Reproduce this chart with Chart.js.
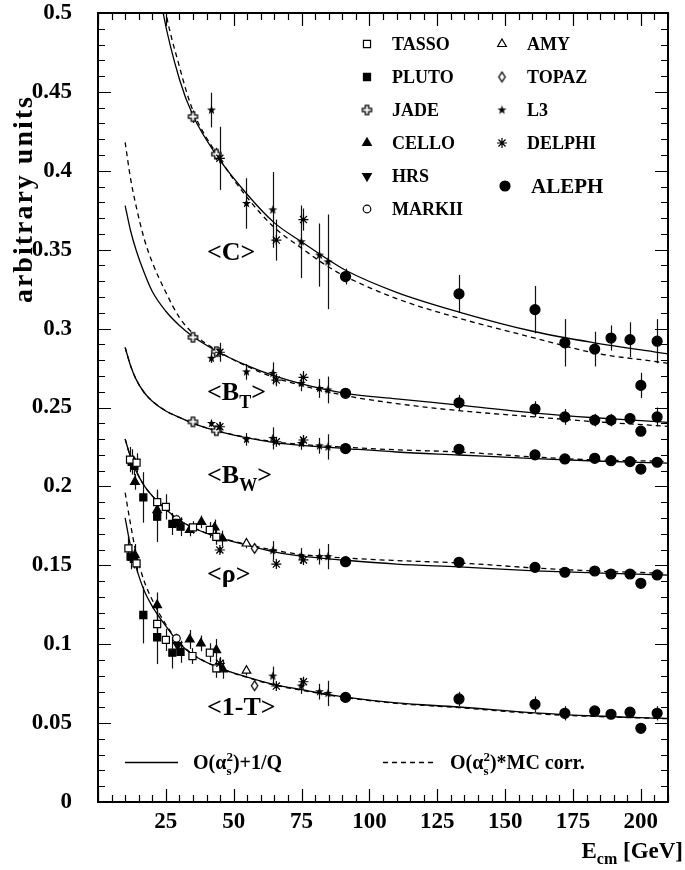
<!DOCTYPE html>
<html>
<head>
<meta charset="utf-8">
<title>Event shape means vs E_cm</title>
<script src="https://cdn.jsdelivr.net/npm/chart.js@4.4.1/dist/chart.umd.min.js"></script>
<style>
  html, body { margin: 0; padding: 0; background: #fff; }
  #wrap { width: 685px; height: 870px; position: relative; }
</style>
</head>
<body>
<div id="wrap"><canvas id="shapeChart" width="685" height="870"></canvas></div>
<script>
// ---- theory curves ----
const curveE = [10, 12, 14, 17, 20, 25, 30, 35, 44, 55, 65, 75, 91.2, 110, 133, 161, 183, 206, 210];
const cCurveE = [20, 24, 30, 35, 44, 55, 65, 75, 85, 91.2, 110, 133, 161, 183, 206, 210];

const cSolid  = [0.545, 0.500, 0.458, 0.435, 0.409, 0.385, 0.367, 0.355, 0.3435, 0.337, 0.323, 0.3105, 0.298, 0.291, 0.285, 0.284];
const cDashed = [0.565, 0.510, 0.466, 0.438, 0.410, 0.383, 0.364, 0.351, 0.339, 0.333, 0.319, 0.3066, 0.294, 0.2845, 0.279, 0.278];

const btSolid  = [0.378, 0.362, 0.350, 0.3355, 0.3235, 0.311, 0.302, 0.295, 0.2855, 0.2765, 0.270, 0.265, 0.259, 0.2555, 0.2515, 0.2465, 0.2435, 0.241, 0.2405];
const btDashed = [0.418, 0.395, 0.378, 0.357, 0.342, 0.323, 0.307, 0.297, 0.286, 0.276, 0.269, 0.264, 0.2575, 0.2525, 0.248, 0.244, 0.241, 0.2385, 0.238];

const bwSolid  = [0.288, 0.2765, 0.268, 0.2595, 0.254, 0.2478, 0.2437, 0.240, 0.235, 0.2307, 0.2278, 0.226, 0.224, 0.2218, 0.2199, 0.2176, 0.2161, 0.2149, 0.2147];
const bwDashed = [0.288, 0.2765, 0.268, 0.2595, 0.254, 0.2478, 0.2437, 0.240, 0.2352, 0.231, 0.2283, 0.2266, 0.2248, 0.2232, 0.2218, 0.2186, 0.2168, 0.216, 0.2158];

const rhoSolid  = [0.230, 0.2185, 0.210, 0.2005, 0.194, 0.1855, 0.1785, 0.1738, 0.1678, 0.1627, 0.1585, 0.1558, 0.1532, 0.1508, 0.149, 0.1465, 0.1452, 0.144, 0.1438];
const rhoDashed = [0.230, 0.2185, 0.210, 0.2005, 0.194, 0.1855, 0.1785, 0.1740, 0.168, 0.1632, 0.1595, 0.1568, 0.1546, 0.153, 0.1515, 0.1483, 0.1464, 0.1451, 0.1449];

const tSolid  = [0.180, 0.162, 0.149, 0.134, 0.124, 0.1115, 0.1005, 0.0932, 0.0855, 0.0791, 0.0744, 0.0712, 0.0665, 0.0628, 0.0602, 0.0565, 0.0545, 0.0532, 0.053];
const tDashed = [0.196, 0.176, 0.158, 0.140, 0.128, 0.1125, 0.101, 0.0935, 0.0855, 0.0789, 0.0741, 0.0708, 0.0662, 0.0625, 0.0598, 0.056, 0.0542, 0.053, 0.0528];

// ---- ALEPH ----
const alephE = [91.2, 133, 161, 172, 183, 189, 196, 200, 206];
const alephC      = [0.333, 0.322, 0.312, 0.291, 0.287, 0.294, 0.293, 0.264, 0.292];
const alephCErr   = [0.005, 0.012, 0.015, 0.015, 0.011, 0.008, 0.011, 0.008, 0.014];
const alephBT     = [0.259, 0.253, 0.249, 0.244, 0.242, 0.242, 0.243, 0.235, 0.244];
const alephBTErr  = [0.002, 0.005, 0.005, 0.005, 0.004, 0.004, 0.003, 0.003, 0.006];
const alephBW     = [0.224, 0.2235, 0.220, 0.2174, 0.2178, 0.2163, 0.2157, 0.211, 0.2153];
const alephBWErr  = [0.001, 0.002, 0.003, 0.002, 0.002, 0.002, 0.002, 0.002, 0.003];
const alephRho    = [0.1523, 0.1519, 0.1487, 0.1456, 0.1464, 0.1445, 0.1445, 0.1386, 0.1439];
const alephRhoErr = [0.001, 0.002, 0.003, 0.003, 0.002, 0.002, 0.002, 0.002, 0.002];
const alephT      = [0.0663, 0.0653, 0.0619, 0.0562, 0.0577, 0.0556, 0.0569, 0.0467, 0.0562];
const alephTErr   = [0.001, 0.0045, 0.005, 0.0045, 0.002, 0.002, 0.002, 0.002, 0.0045];

// ---- L3 ----
const l3E    = [41.8, 54.7, 64.4, 74.9, 81.6, 84.7];
const l3C    = [0.4385, 0.3793, 0.3752, 0.355, 0.3466, 0.3423];
const l3CErr = [0.011, 0.016, 0.024, 0.023, 0.02, 0.03];
const l3BT   = [0.2812, 0.2726, 0.2716, 0.2653, 0.2621, 0.2611];
const l3BTErr = [0.003, 0.005, 0.007, 0.005, 0.006, 0.0085];
const l3BW   = [0.2399, 0.2298, 0.2304, 0.2272, 0.2257, 0.225];
const l3BWErr = [0.002, 0.004, 0.007, 0.004, 0.005, 0.008];
const l3LowE = [64.4, 74.9, 81.6, 84.7];
const l3Rho  = [0.1593, 0.1559, 0.1555, 0.1555];
const l3RhoErr = [0.006, 0.005, 0.005, 0.008];
const l3T    = [0.0798, 0.0735, 0.0699, 0.0688];
const l3TErr = [0.006, 0.005, 0.005, 0.008];

// ---- DELPHI ----
const delphiE = [44.9, 65.7, 75.7];
const delphiC = [0.4079, 0.3561, 0.3691];
const delphiCErr = [0.02, 0.013, 0.007];
const delphiBT = [0.285, 0.2674, 0.2691];
const delphiBTErr = [0.006, 0.004, 0.004];
const delphiBW = [0.2378, 0.2283, 0.2294];
const delphiBWErr = [0.003, 0.002, 0.003];
const delphiRho = [0.1597, 0.1508, 0.1534];
const delphiRhoErr = [0.002, 0.002, 0.002];
const delphiT = [0.0879, 0.0735, 0.0762];
const delphiTErr = [0.004, 0.002, 0.003];

// ---- JADE (C, B_T, B_W) ----
const jadeE   = [35, 43.6, 35, 43.6, 35, 43.6];
const jadeY   = [0.4343, 0.4106, 0.2945, 0.2854, 0.2409, 0.2353];
const jadeErr = [0.004, 0.004, 0.002, 0.002, 0.002, 0.002];

// ---- low energy (rho first, then 1-T) ----
const tassoE   = [11.8, 14.2, 21.8, 25, 35, 41.2, 43.6, 11.2, 14.2, 21.8, 25, 34.8, 41.2, 43.6];
const tassoY   = [0.217, 0.215, 0.190, 0.187, 0.174, 0.1724, 0.168, 0.1607, 0.1512, 0.1128, 0.1027, 0.0925, 0.0946, 0.0847];
const tassoErr = [0.008, 0.006, 0.008, 0.008, 0.004, 0.005, 0.005, 0.008, 0.006, 0.008, 0.007, 0.005, 0.006, 0.006];

const plutoE   = [12.4, 13.4, 16.7, 21.8, 27.4, 30.4, 12, 13.2, 16.7, 21.8, 27.4, 30.4];
const plutoY   = [0.2155, 0.213, 0.193, 0.1808, 0.1762, 0.1745, 0.1555, 0.154, 0.1185, 0.1044, 0.0946, 0.0952];
const plutoErr = [0.008, 0.006, 0.016, 0.016, 0.007, 0.006, 0.008, 0.006, 0.018, 0.017, 0.01, 0.007];

const celloE   = [13.6, 21.8, 33.8, 38.1, 43, 45.8, 13.6, 21.8, 33.8, 37.9, 43.6, 46];
const celloY   = [0.2029, 0.185, 0.1724, 0.1775, 0.174, 0.167, 0.1565, 0.1248, 0.103, 0.1005, 0.0963, 0.0841];
const celloErr = [0.005, 0.007, 0.004, 0.004, 0.005, 0.005, 0.007, 0.008, 0.006, 0.005, 0.007, 0.006];

const hrsE = [29.3, 29.3];     const hrsY = [0.1775, 0.0995];    const hrsErr = [0.004, 0.004];
const markiiE = [28.9, 28.9];  const markiiY = [0.179, 0.1037];  const markiiErr = [0.003, 0.003];
const amyE = [54.7, 54.7];     const amyY = [0.1638, 0.0832];    const amyErr = [0.003, 0.003];
const topazE = [57.7, 57.7];   const topazY = [0.1607, 0.0737];  const topazErr = [0.002, 0.002];

// ---- axis ----
const xTickStep = 25, xMinorStep = 5;
const yTickStep = 0.05, yMinorStep = 0.01;

const SERIF = '"Liberation Serif", "Times New Roman", serif';

// small custom markers
function markerCanvas(size, draw) {
    const c = document.createElement('canvas');
    c.width = size; c.height = size;
    draw(c.getContext('2d'), size / 2);
    return c;
}
const jadeMark = markerCanvas(13, (g, m) => {
    const a = 1.7, h = 4.6;
    const p = [[-a,-h],[a,-h],[a,-a],[h,-a],[h,a],[a,a],[a,h],[-a,h],[-a,a],[-h,a],[-h,-a],[-a,-a]];
    g.beginPath();
    p.forEach(([dx, dy]) => g.lineTo(m + dx, m + dy));
    g.closePath();
    g.fillStyle = '#fff'; g.fill();
    g.lineWidth = 1.3; g.strokeStyle = '#000'; g.stroke();
});
const l3Mark = markerCanvas(13, (g, m) => {
    g.beginPath();
    for (let i = 0; i < 10; i++) {
        const r = i % 2 ? 1.9 : 4.8;
        const ang = -Math.PI / 2 + i * Math.PI / 5;
        g.lineTo(m + r * Math.cos(ang), m + r * Math.sin(ang));
    }
    g.closePath();
    g.fillStyle = '#000'; g.fill();
});
const topazMark = markerCanvas(13, (g, m) => {
    g.beginPath();
    g.moveTo(m, m - 4.8); g.lineTo(m + 3.2, m); g.lineTo(m, m + 4.8); g.lineTo(m - 3.2, m);
    g.closePath();
    g.fillStyle = '#fff'; g.fill();
    g.lineWidth = 1.3; g.strokeStyle = '#000'; g.stroke();
});

// marker styles per experiment
const styles = {
    TASSO:  { pointStyle: 'rect', pointRadius: 5, pointBackgroundColor: '#fff' },
    PLUTO:  { pointStyle: 'rect', pointRadius: 5, pointBackgroundColor: '#000' },
    JADE:   { pointStyle: jadeMark, pointRadius: 5 },
    CELLO:  { pointStyle: 'triangle', pointRadius: 5, pointBackgroundColor: '#000' },
    HRS:    { pointStyle: 'triangle', pointRotation: 180, pointRadius: 5, pointBackgroundColor: '#000' },
    MARKII: { pointStyle: 'circle', pointRadius: 3.8, pointBackgroundColor: '#fff' },
    AMY:    { pointStyle: 'triangle', pointRadius: 5, pointBackgroundColor: '#fff' },
    TOPAZ:  { pointStyle: topazMark, pointRadius: 5 },
    L3:     { pointStyle: l3Mark, pointRadius: 5 },
    DELPHI: { pointStyle: 'star', pointRadius: 5, pointBackgroundColor: '#000' },
    ALEPH:  { pointStyle: 'circle', pointRadius: 5, pointBackgroundColor: '#000' }
};

function pts(E, Y) { return E.map((e, i) => ({ x: e, y: Y[i] })); }

function expSet(name, E, Y, err) {
    return Object.assign({
        label: name,
        data: pts(E, Y),
        errs: err,
        showLine: false,
        pointBorderColor: '#000',
        pointBorderWidth: 1.2
    }, styles[name]);
}

function curveSet(label, E, Y, dashed) {
    return {
        label: label,
        data: pts(E, Y),
        showLine: true,
        pointRadius: 0,
        borderColor: '#000',
        borderWidth: 1.3,
        borderDash: dashed ? [5, 4] : [],
        cubicInterpolationMode: 'monotone',
        fill: false
    };
}

const aleph5E = [].concat(alephE, alephE, alephE, alephE, alephE);
const l3AllE = [].concat(l3E, l3E, l3E, l3LowE, l3LowE);
const delphi5E = [].concat(delphiE, delphiE, delphiE, delphiE, delphiE);

const datasets = [
    expSet('ALEPH', aleph5E, [].concat(alephC, alephBT, alephBW, alephRho, alephT),
           [].concat(alephCErr, alephBTErr, alephBWErr, alephRhoErr, alephTErr)),
    expSet('L3', l3AllE, [].concat(l3C, l3BT, l3BW, l3Rho, l3T),
           [].concat(l3CErr, l3BTErr, l3BWErr, l3RhoErr, l3TErr)),
    expSet('DELPHI', delphi5E, [].concat(delphiC, delphiBT, delphiBW, delphiRho, delphiT),
           [].concat(delphiCErr, delphiBTErr, delphiBWErr, delphiRhoErr, delphiTErr)),
    expSet('JADE', jadeE, jadeY, jadeErr),
    expSet('TASSO', tassoE, tassoY, tassoErr),
    expSet('PLUTO', plutoE, plutoY, plutoErr),
    expSet('CELLO', celloE, celloY, celloErr),
    expSet('HRS', hrsE, hrsY, hrsErr),
    expSet('MARKII', markiiE, markiiY, markiiErr),
    expSet('AMY', amyE, amyY, amyErr),
    expSet('TOPAZ', topazE, topazY, topazErr),
    curveSet('C', cCurveE, cSolid, false),
    curveSet('C mc', cCurveE, cDashed, true),
    curveSet('BT', curveE, btSolid, false),
    curveSet('BT mc', curveE, btDashed, true),
    curveSet('BW', curveE, bwSolid, false),
    curveSet('BW mc', curveE, bwDashed, true),
    curveSet('rho', curveE, rhoSolid, false),
    curveSet('rho mc', curveE, rhoDashed, true),
    curveSet('T', curveE, tSolid, false),
    curveSet('T mc', curveE, tDashed, true)
];

// text with sub/superscripts: parts = {t, s, dy, keep}
function richWidth(ctx, parts) {
    let w = 0, keepW = null;
    parts.forEach(p => {
        ctx.font = 'bold ' + p.s + 'px ' + SERIF;
        const pw = ctx.measureText(p.t).width;
        if (p.keep) { keepW = pw; return; }
        if (keepW !== null) { w += Math.max(keepW, pw); keepW = null; } else { w += pw; }
    });
    return w;
}
function richText(ctx, x, y, parts) {
    let cx = x, keepW = null;
    parts.forEach(p => {
        ctx.font = 'bold ' + p.s + 'px ' + SERIF;
        ctx.fillText(p.t, cx, y + (p.dy || 0));
        const pw = ctx.measureText(p.t).width;
        if (p.keep) { keepW = pw; return; }
        if (keepW !== null) { cx += Math.max(keepW, pw); keepW = null; } else { cx += pw; }
    });
}

// error bars under the markers
const errorBars = {
    id: 'errorBars',
    beforeDatasetsDraw(chart) {
        const { ctx, chartArea, scales: { x, y } } = chart;
        ctx.save();
        ctx.beginPath();
        ctx.rect(chartArea.left, chartArea.top, chartArea.right - chartArea.left, chartArea.bottom - chartArea.top);
        ctx.clip();
        ctx.strokeStyle = '#111';
        ctx.lineWidth = 1.2;
        chart.data.datasets.forEach(ds => {
            if (!ds.errs) return;
            ds.data.forEach((p, j) => {
                const e = ds.errs[j];
                if (!e) return;
                const px = Math.round(x.getPixelForValue(p.x)) + 0.5;
                ctx.beginPath();
                ctx.moveTo(px, y.getPixelForValue(p.y - e));
                ctx.lineTo(px, y.getPixelForValue(p.y + e));
                ctx.stroke();
            });
        });
        ctx.restore();
    }
};

// frame with inward ticks on all four sides
const frameTicks = {
    id: 'frameTicks',
    afterDatasetsDraw(chart) {
        const { ctx, chartArea: a, scales: { x, y } } = chart;
        ctx.save();
        ctx.strokeStyle = '#000';
        ctx.lineWidth = 1.2;
        for (let v = x.min; v <= x.max + 1e-9; v += xMinorStep) {
            const px = Math.round(x.getPixelForValue(v)) + 0.5;
            const len = Math.abs(v % xTickStep) < 1e-6 ? 13 : 7;
            ctx.beginPath();
            ctx.moveTo(px, a.bottom); ctx.lineTo(px, a.bottom - len);
            ctx.moveTo(px, a.top); ctx.lineTo(px, a.top + len);
            ctx.stroke();
        }
        for (let i = 0; ; i++) {
            const v = y.min + i * yMinorStep;
            if (v > y.max + 1e-9) break;
            const py = Math.round(y.getPixelForValue(v)) + 0.5;
            const len = i % 5 === 0 ? 13 : 7;
            ctx.beginPath();
            ctx.moveTo(a.left, py); ctx.lineTo(a.left + len, py);
            ctx.moveTo(a.right, py); ctx.lineTo(a.right - len, py);
            ctx.stroke();
        }
        ctx.lineWidth = 2;
        ctx.strokeRect(a.left, a.top, a.right - a.left, a.bottom - a.top);
        ctx.restore();
    }
};

// legend, curve names and axis titles
const annotations = {
    id: 'annotations',
    afterDraw(chart) {
        const ctx = chart.ctx;
        ctx.save();
        ctx.fillStyle = '#000';
        ctx.textBaseline = 'alphabetic';

        // experiment legend
        const leg = [
            ['TASSO', 367, 44], ['PLUTO', 367, 77], ['JADE', 367, 110], ['CELLO', 367, 143],
            ['HRS', 367, 176], ['MARKII', 367, 209],
            ['AMY', 502, 44], ['TOPAZ', 502, 77], ['L3', 502, 110], ['DELPHI', 502, 143]
        ];
        leg.forEach(([name, mx, my]) => {
            const st = styles[name];
            ctx.fillStyle = st.pointBackgroundColor || '#000';
            ctx.strokeStyle = '#000';
            ctx.lineWidth = 1.2;
            Chart.helpers.drawPoint(ctx, {
                pointStyle: st.pointStyle, radius: st.pointRadius,
                rotation: st.pointRotation || 0, borderWidth: 1.2
            }, mx, my);
            ctx.fillStyle = '#000';
            ctx.font = 'bold 18px ' + SERIF;
            ctx.fillText(name, mx + 25, my + 6);
        });
        Chart.helpers.drawPoint(ctx, { pointStyle: 'circle', radius: 5, rotation: 0, borderWidth: 1 }, 505, 186);
        ctx.font = 'bold 21px ' + SERIF;
        ctx.fillText('ALEPH', 531, 193);

        // observable names
        richText(ctx, 207, 260, [{ t: '<C>', s: 26 }]);
        richText(ctx, 207, 400, [{ t: '<B', s: 26 }, { t: 'T', s: 18, dy: 8 }, { t: '>', s: 26 }]);
        richText(ctx, 207, 483, [{ t: '<B', s: 26 }, { t: 'W', s: 18, dy: 8 }, { t: '>', s: 26 }]);
        richText(ctx, 207, 582, [{ t: '<ρ>', s: 26 }]);
        richText(ctx, 207, 715, [{ t: '<1-T>', s: 26 }]);

        // curve legend
        ctx.strokeStyle = '#000';
        ctx.lineWidth = 1.3;
        ctx.beginPath(); ctx.moveTo(125, 762.5); ctx.lineTo(178, 762.5); ctx.stroke();
        ctx.setLineDash([5, 4]);
        ctx.beginPath(); ctx.moveTo(383, 762.5); ctx.lineTo(433, 762.5); ctx.stroke();
        ctx.setLineDash([]);
        richText(ctx, 193, 769, [{ t: 'O(α', s: 20 }, { t: 's', s: 13, dy: 6, keep: true }, { t: '2', s: 13, dy: -8 }, { t: ')+1/Q', s: 20 }]);
        richText(ctx, 450, 769, [{ t: 'O(α', s: 20 }, { t: 's', s: 13, dy: 6, keep: true }, { t: '2', s: 13, dy: -8 }, { t: ')*MC corr.', s: 20 }]);

        // x title, right aligned
        const xt = [{ t: 'E', s: 23 }, { t: 'cm', s: 16, dy: 6 }, { t: ' [GeV]', s: 23 }];
        richText(ctx, 683 - richWidth(ctx, xt), 858, xt);

        // y title, rotated, ending near the top
        ctx.translate(32, 95);
        ctx.rotate(-Math.PI / 2);
        ctx.textAlign = 'right';
        ctx.font = 'bold 28px ' + SERIF;
        ctx.letterSpacing = '2px';
        ctx.fillText('arbitrary units', 0, 0);
        ctx.letterSpacing = '0px';
        ctx.restore();
    }
};

const tickFont = { family: SERIF, size: 23, weight: 'bold' };

new Chart(document.getElementById('shapeChart').getContext('2d'), {
    type: 'scatter',
    data: { datasets: datasets },
    options: {
        responsive: false,
        animation: false,
        events: [],
        layout: { padding: { top: 13, right: 17, left: 0, bottom: 0 } },
        scales: {
            x: {
                type: 'linear', min: 0, max: 210,
                grid: { display: false }, border: { display: false },
                ticks: {
                    stepSize: xTickStep, autoSkip: false, maxRotation: 0, padding: -2,
                    includeBounds: false,
                    color: '#000', font: tickFont,
                    callback: v => (v > 0 && v % xTickStep === 0) ? String(v) : ''
                },
                afterFit: s => { s.height = 68; s.paddingLeft = 0; s.paddingRight = 0; }
            },
            y: {
                type: 'linear', min: 0, max: 0.5,
                grid: { display: false }, border: { display: false },
                ticks: {
                    stepSize: yTickStep, autoSkip: false, padding: 18,
                    color: '#000', font: tickFont,
                    callback: v => String(+v.toFixed(2))
                },
                afterFit: s => { s.width = 98; s.paddingTop = 0; s.paddingBottom = 0; }
            }
        },
        plugins: {
            legend: { display: false },
            tooltip: { enabled: false }
        }
    },
    plugins: [errorBars, frameTicks, annotations]
});
</script>
</body>
</html>
